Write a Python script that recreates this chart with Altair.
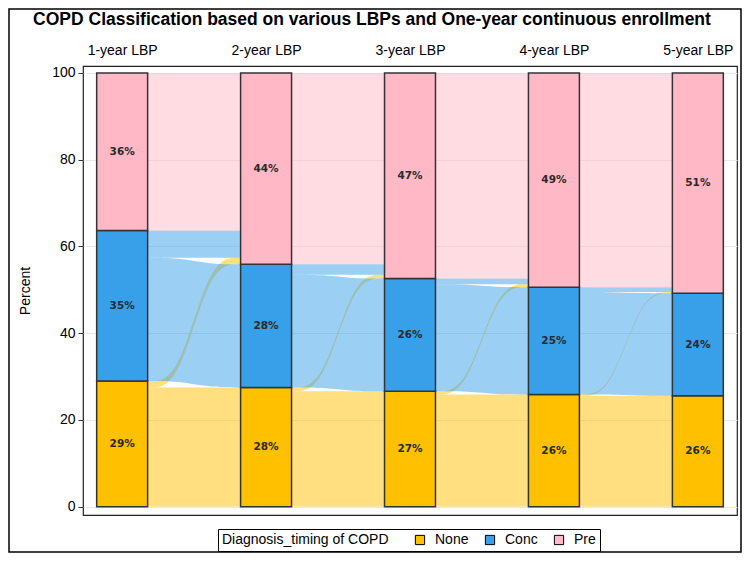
import json
import altair as alt
import pandas as pd

# ---------------- data ----------------
periods = ["1-year LBP", "2-year LBP", "3-year LBP", "4-year LBP", "5-year LBP"]
categories = ["None", "Conc", "Pre"]
none_pct = [29.0, 27.5, 26.6, 25.9, 25.6]
conc_pct = [34.7, 28.4, 26.0, 24.7, 23.6]
pre_pct = [36.3, 44.1, 47.4, 49.4, 50.8]
# transitions between consecutive look-back periods
none_to_pre = [1.5, 0.9, 0.7, 0.3]
conc_to_pre = [6.3, 2.4, 1.3, 1.1]
colors = ["#FFC000", "#38A0E8", "#FFB8C6"]
y_ticks = [0, 20, 40, 60, 80, 100]

title_text = "COPD Classification based on various LBPs and One-year continuous enrollment"
legend_title = "Diagnosis_timing of COPD"

HALF = 0.177  # half bar width in x units

# ---------------- bars ----------------
bar_rows = []
for i, p in enumerate(periods):
    pos = i + 1
    lo = 0.0
    for cat, vals in zip(categories, [none_pct, conc_pct, pre_pct]):
        v = vals[i]
        bar_rows.append({"period": p, "pos": pos, "x0": pos - HALF, "x1": pos + HALF,
                         "cat": cat, "lo": lo, "hi": lo + v, "mid": lo + v / 2,
                         "label": f"{v:.0f}%"})
        lo += v
bar_df = pd.DataFrame(bar_rows)

# ---------------- flows ----------------
flow_rows = []
for i in range(len(periods) - 1):
    N0, C0 = none_pct[i], conc_pct[i]
    npre, cpre = none_to_pre[i], conc_to_pre[i]
    sizes = {"nn": N0 - npre, "np": npre, "cc": C0 - cpre, "cp": cpre, "pp": pre_pct[i]}
    src = {"nn": "None", "np": "None", "cc": "Conc", "cp": "Conc", "pp": "Pre"}
    left_order = ["nn", "np", "cc", "cp", "pp"]
    right_order = ["nn", "cc", "np", "cp", "pp"]
    left, right = {}, {}
    acc = 0.0
    for k in left_order:
        left[k] = (acc, acc + sizes[k])
        acc += sizes[k]
    acc = 0.0
    for k in right_order:
        right[k] = (acc, acc + sizes[k])
        acc += sizes[k]
    xl = i + 1 + HALF
    xr = i + 2 - HALF
    xs = [xl, xl + (xr - xl) / 3, xl + 2 * (xr - xl) / 3, xr]
    for k in ["np", "nn", "cc", "cp", "pp"]:
        ends = [left[k], left[k], right[k], right[k]]
        for xx, (a, b) in zip(xs, ends):
            flow_rows.append({"flow": f"f{i}{k}", "src": src[k], "fx": xx, "flo": a, "fhi": b})
flow_df = pd.DataFrame(flow_rows)

# ---------------- scales / axes ----------------
x_scale = alt.Scale(domain=[0.728, 5.272], nice=False, zero=False)
y_scale = alt.Scale(domain=[-1.9, 101.6], nice=False, zero=False)
color_scale = alt.Scale(domain=categories, range=colors)

x_axis = alt.Axis(orient="top", values=list(range(1, len(periods) + 1)),
                  labelExpr=f"{json.dumps(periods)}[datum.value - 1]",
                  ticks=False, domain=False, grid=False, labelPadding=9,
                  labelFontSize=14, labelColor="black", title=None)
y_axis = alt.Axis(values=y_ticks, title="Percent", titleFontSize=14, titleFontWeight="normal",
                  titleColor="black", labelFontSize=14, labelColor="black", tickSize=5,
                  tickColor="#333", domain=False, grid=True, gridColor="#e9e9e9",
                  labelPadding=3, titlePadding=19)
legend = alt.Legend(orient="none", legendX=135, legendY=463, direction="horizontal",
                    title=legend_title, titleOrient="left", titleFontSize=14,
                    titleFontWeight="normal", titleColor="black", titlePadding=24,
                    labelFontSize=14, labelColor="black", labelOffset=8, columnPadding=14,
                    symbolType="square", symbolSize=85, symbolStrokeColor="black",
                    symbolStrokeWidth=1, symbolOpacity=1, strokeColor="black", padding=4)

flows = alt.Chart(flow_df).mark_area(interpolate="basis", opacity=0.5, orient="vertical").encode(
    x=alt.X("fx:Q", scale=x_scale, axis=x_axis),
    y=alt.Y("flo:Q", scale=y_scale, axis=y_axis),
    y2="fhi:Q",
    color=alt.Color("src:N", scale=color_scale, legend=legend),
    detail="flow:N",
)

bars = alt.Chart(bar_df).mark_rect(stroke="#333", strokeWidth=1.5).encode(
    x=alt.X("x0:Q", scale=x_scale, axis=x_axis),
    x2="x1:Q",
    y=alt.Y("lo:Q", scale=y_scale, axis=y_axis),
    y2="hi:Q",
    color=alt.Color("cat:N", scale=color_scale, legend=legend),
)

labels = alt.Chart(bar_df).mark_text(font="DejaVu Sans", fontSize=10.5, fontWeight="bold",
                                     color="#2a2a2a").encode(
    x=alt.X("pos:Q", scale=x_scale, axis=x_axis),
    y=alt.Y("mid:Q", scale=y_scale, axis=y_axis),
    text="label:N",
)

title = alt.Chart(pd.DataFrame({"t": [title_text]})).mark_text(
    fontSize=17.5, fontWeight="bold", font="Liberation Sans", color="black",
    align="center", baseline="middle").encode(
    x=alt.value(289), y=alt.value(-46), text="t:N")

border = alt.Chart(pd.DataFrame({"a": [0]})).mark_rect(
    fill="transparent", stroke="black", strokeWidth=1.5).encode(
    x=alt.value(-74), x2=alt.value(658), y=alt.value(-57), y2=alt.value(486))

chart = alt.layer(flows, bars, labels, title, border).properties(
    width=654, height=449,
    autosize=alt.AutoSizeParams(type="none"),
    padding={"left": 75, "top": 58, "right": 5, "bottom": 38},
).configure(font="Liberation Sans").configure_view(stroke="#222", strokeWidth=1.2)

chart.save("out.html", embed_options={"renderer": "svg", "actions": False})
